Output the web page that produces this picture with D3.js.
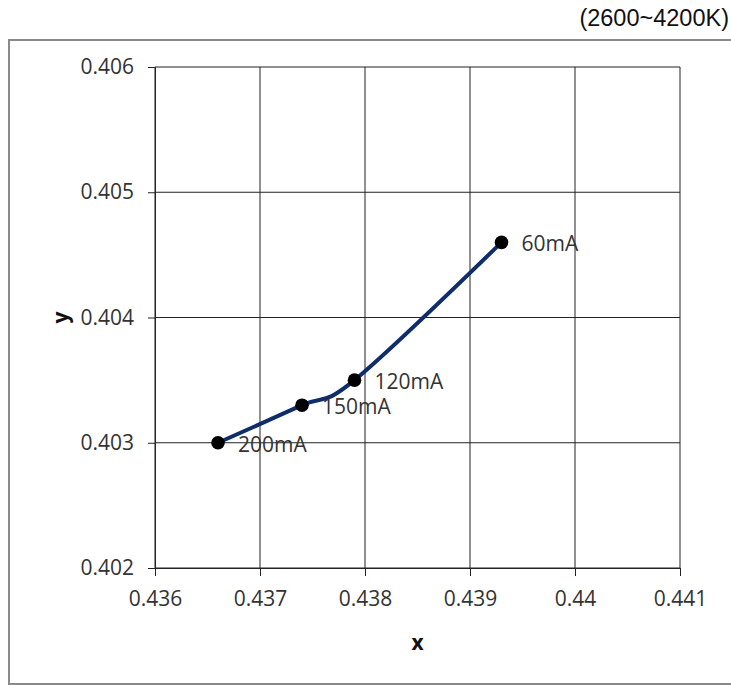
<!DOCTYPE html>
<html>
<head>
<meta charset="utf-8">
<script src="https://cdn.jsdelivr.net/npm/d3@7"></script>
<style>
  body { margin: 0; background: #fff; }
  svg { display: block; }
</style>
</head>
<body>
<div id="chart"></div>
<script>
// chart values
const currents = ["200mA", "150mA", "120mA", "60mA"];
const xValues = [0.4366, 0.4374, 0.4379, 0.4393];
const yValues = [0.4030, 0.4033, 0.4035, 0.4046];
const xTicks = [0.436, 0.437, 0.438, 0.439, 0.44, 0.441];
const yTicks = [0.402, 0.403, 0.404, 0.405, 0.406];

const width = 731;
const height = 685;
const margin = {left: 155, right: 51, top: 67, bottom: 117};
const labelFont = "'Open Sans', sans-serif";

const data = currents.map((c, i) => ({label: c, x: xValues[i], y: yValues[i]}));

let svg = d3.select("#chart")
  .append("svg")
  .attr("width", width)
  .attr("height", height);

// outer frame, right side runs off the page
svg.append("rect")
  .attr("x", 9)
  .attr("y", 40)
  .attr("width", 760)
  .attr("height", 644)
  .attr("fill", "none")
  .attr("stroke", "#8a8a8a")
  .attr("stroke-width", 2);

svg.append("text")
  .attr("x", 729)
  .attr("y", 26)
  .attr("text-anchor", "end")
  .attr("font-family", "'Liberation Sans', Arial, sans-serif")
  .attr("font-size", "23.5px")
  .attr("fill", "#111")
  .text("(2600~4200K)");

let xScale = d3.scaleLinear()
  .domain([0.436, 0.441])
  .range([margin.left, width - margin.right]);

let yScale = d3.scaleLinear()
  .domain([0.402, 0.406])
  .range([height - margin.bottom, margin.top]);

// grid
svg.append("g")
  .selectAll("line")
  .data(xTicks)
  .join("line")
    .attr("x1", d => xScale(d)).attr("x2", d => xScale(d))
    .attr("y1", yScale(0.406)).attr("y2", yScale(0.402))
    .attr("stroke", "#222").attr("stroke-width", 1);

svg.append("g")
  .selectAll("line")
  .data(yTicks)
  .join("line")
    .attr("x1", xScale(0.436)).attr("x2", xScale(0.441))
    .attr("y1", d => yScale(d)).attr("y2", d => yScale(d))
    .attr("stroke", "#222").attr("stroke-width", 1);

// axes
let xAxis = svg.append("g")
  .attr("transform", `translate(0,${yScale(0.402)})`)
  .call(d3.axisBottom(xScale).tickValues(xTicks).tickFormat(d3.format("")).tickSize(8).tickPadding(15));

let yAxis = svg.append("g")
  .attr("transform", `translate(${xScale(0.436)},0)`)
  .call(d3.axisLeft(yScale).tickValues(yTicks).tickFormat(d3.format("")).tickSize(7).tickPadding(14));

[xAxis, yAxis].forEach(g => {
  g.select(".domain").attr("stroke", "#222");
  g.selectAll(".tick line").attr("stroke", "#222");
  g.selectAll(".tick text")
    .attr("font-family", labelFont)
    .attr("font-size", "21px")
    .attr("fill", "#333");
});

svg.append("text")
  .attr("x", (xScale(0.436) + xScale(0.441)) / 2)
  .attr("y", 650)
  .attr("text-anchor", "middle")
  .attr("font-family", labelFont)
  .attr("font-weight", "bold")
  .attr("font-size", "21px")
  .attr("fill", "#111")
  .text("x");

svg.append("text")
  .attr("transform", `translate(68,${yScale(0.404)}) rotate(-90)`)
  .attr("text-anchor", "middle")
  .attr("font-family", labelFont)
  .attr("font-weight", "bold")
  .attr("font-size", "21px")
  .attr("fill", "#111")
  .text("y");

// smoothed series line
let line = d3.line()
  .x(d => xScale(d.x))
  .y(d => yScale(d.y))
  .curve(d3.curveCatmullRom.alpha(0));

svg.append("path")
  .datum(data)
  .attr("d", line)
  .attr("fill", "none")
  .attr("stroke", "#0f2d6b")
  .attr("stroke-width", 4)
  .attr("stroke-linecap", "round");

svg.selectAll("circle")
  .data(data)
  .join("circle")
    .attr("cx", d => xScale(d.x))
    .attr("cy", d => yScale(d.y))
    .attr("r", 6.8)
    .attr("fill", "#000");

svg.selectAll(".point-label")
  .data(data)
  .join("text")
    .attr("class", "point-label")
    .attr("x", d => xScale(d.x) + 20)
    .attr("y", d => yScale(d.y) + 9)
    .attr("font-family", labelFont)
    .attr("font-size", "21px")
    .attr("fill", "#333")
    .text(d => d.label);
</script>
</body>
</html>
